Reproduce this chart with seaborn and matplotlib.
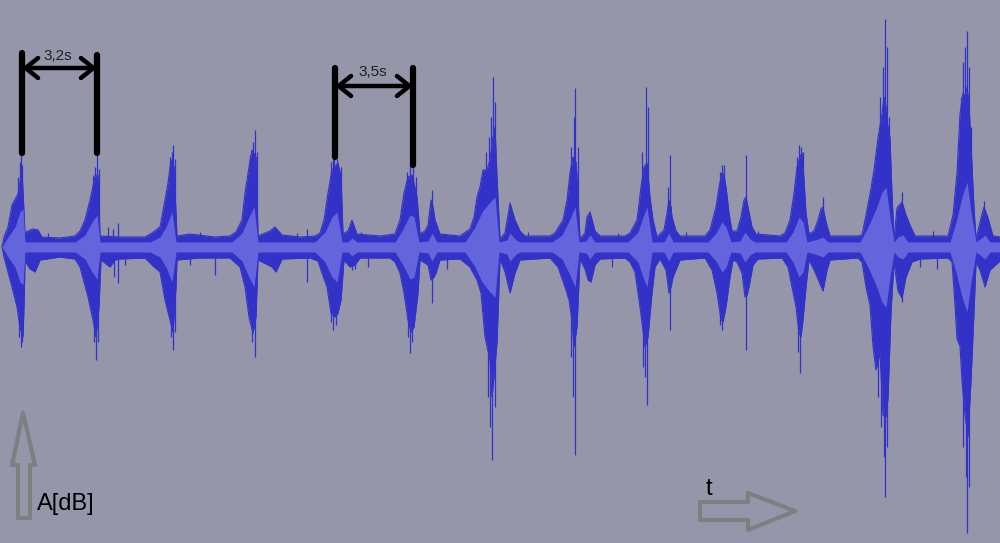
import matplotlib
matplotlib.use("Agg")
import matplotlib.pyplot as plt
import pandas as pd
import seaborn as sns
from matplotlib.patches import Polygon

# waveform: x in frames (1 frame = 1 px), amplitude in px from the centre line
CENTER_Y = 247

# upper peak envelope (frame, amplitude)
upper_env = [
    (2, 0), (4, 10), (8, 20), (12, 42), (18, 53), (22, 76), (25, 14), (28, 16), (33, 18), (38, 17),
    (42, 10), (60, 9), (75, 11), (80, 16), (85, 27), (90, 47), (95, 70), (98, 72), (100, 11),
    (120, 10), (145, 10), (152, 14), (160, 20), (165, 47), (168, 64), (171, 87), (174, 80), (177, 11),
    (190, 13), (215, 10), (230, 11), (236, 15), (242, 27), (245, 54), (249, 80), (252, 97), (256, 90),
    (258, 11), (270, 16), (275, 20), (282, 12), (300, 10), (315, 11), (320, 14), (324, 27), (328, 54),
    (332, 77), (338, 84), (341, 70), (343, 13), (348, 16), (352, 27), (357, 13), (380, 11), (395, 13),
    (400, 27), (404, 54), (408, 70), (412, 72), (414, 64), (417, 50), (420, 13), (425, 16), (428, 22),
    (431, 47), (433, 40), (435, 27), (440, 13), (460, 11), (470, 18), (474, 30), (477, 50), (480, 60),
    (483, 77), (487, 77), (490, 87), (493, 110), (495, 120), (497, 70), (500, 8), (505, 14), (510, 44),
    (515, 27), (520, 16), (525, 11), (550, 11), (555, 14), (563, 27), (567, 47), (570, 74), (573, 90),
    (576, 85), (577, 70), (580, 8), (585, 14), (587, 30), (590, 35), (595, 16), (600, 11), (625, 11),
    (630, 14), (637, 27), (641, 60), (644, 80), (647, 84), (650, 50), (653, 27), (657, 10), (664, 17),
    (667, 34), (669, 47), (671, 40), (672, 30), (676, 16), (680, 11), (705, 11), (710, 17), (716, 40),
    (719, 60), (722, 74), (724, 72), (726, 60), (729, 34), (732, 16), (737, 16), (741, 30), (744, 47),
    (746, 50), (748, 40), (752, 20), (756, 13), (780, 11), (785, 14), (790, 27), (794, 54), (797, 80),
    (800, 90), (802, 94), (804, 67), (806, 34), (809, 13), (814, 16), (818, 27), (821, 38), (823, 40),
    (826, 25), (830, 11), (858, 11), (862, 12), (866, 32), (870, 53), (874, 77), (878, 109), (882, 133),
    (884, 150), (886, 140), (887, 126), (890, 109), (892, 53), (894, 8), (897, 39), (902, 45), (906, 32),
    (910, 22), (915, 11), (948, 11), (953, 32), (957, 74), (960, 133), (963, 154), (965, 150), (967, 160),
    (969, 143), (972, 81), (974, 39), (976, 8), (980, 25), (984, 40), (988, 29), (993, 11), (1000, 10),
]

# lower peak envelope (frame, amplitude)
lower_env = [
    (2, 0), (4, -10), (8, -25), (12, -40), (17, -60), (20, -80), (23, -90), (24, -60), (25, -14),
    (30, -22), (35, -25), (40, -13), (60, -10), (75, -12), (80, -20), (88, -50), (93, -73), (96, -90),
    (99, -60), (101, -13), (110, -20), (115, -13), (120, -12), (145, -11), (152, -18), (160, -25),
    (165, -53), (170, -73), (173, -85), (176, -40), (177, -13), (200, -11), (230, -11), (240, -20),
    (245, -40), (249, -70), (253, -86), (256, -70), (258, -13), (272, -20), (276, -25), (282, -12),
    (310, -11), (318, -14), (322, -26), (327, -40), (331, -66), (335, -70), (338, -66), (341, -53),
    (344, -13), (350, -20), (355, -18), (360, -11), (390, -11), (395, -15), (400, -26), (404, -46),
    (408, -73), (411, -85), (414, -80), (418, -46), (420, -13), (428, -18), (431, -33), (434, -30),
    (436, -26), (440, -13), (460, -12), (470, -20), (477, -33), (481, -46), (485, -90), (490, -113),
    (492, -150), (494, -130), (497, -96), (500, -12), (505, -25), (510, -46), (515, -26), (520, -13),
    (550, -11), (558, -20), (565, -40), (569, -53), (572, -73), (574, -100), (577, -80), (580, -12),
    (585, -22), (588, -33), (591, -35), (595, -18), (600, -12), (625, -11), (630, -15), (635, -25),
    (640, -60), (645, -100), (648, -90), (652, -46), (655, -20), (660, -12), (666, -23), (669, -46),
    (671, -40), (673, -30), (680, -13), (705, -11), (712, -23), (717, -46), (721, -73), (723, -75),
    (726, -60), (730, -30), (733, -13), (737, -15), (742, -26), (745, -50), (747, -48), (749, -40),
    (753, -18), (758, -12), (782, -11), (788, -20), (792, -40), (796, -60), (799, -86), (801, -90),
    (803, -73), (806, -40), (809, -13), (815, -25), (820, -37), (823, -44), (827, -23), (830, -13),
    (858, -11), (862, -15), (866, -40), (870, -58), (873, -99), (876, -123), (880, -106), (883, -168),
    (886, -170), (888, -151), (891, -65), (894, -15), (898, -44), (902, -51), (906, -30), (912, -15),
    (920, -12), (948, -11), (952, -15), (955, -58), (957, -92), (960, -99), (962, -134), (965, -168),
    (968, -190), (969, -170), (971, -134), (974, -65), (976, -15), (980, -23), (985, -40), (990, -23),
    (1000, -14),
]

# rms core (frame, half width)
rms_core = [
    (2, 0), (5, 5), (8, 10), (15, 20), (20, 35), (23, 38), (25, 5), (75, 5), (85, 12), (92, 25), (97, 32),
    (100, 5), (150, 5), (160, 10), (166, 20), (172, 35), (176, 5), (232, 5), (242, 14), (248, 28),
    (254, 40), (258, 5), (315, 5), (325, 15), (332, 30), (337, 35), (342, 5), (348, 5), (352, 9),
    (357, 5), (395, 5), (403, 18), (410, 32), (414, 30), (419, 5), (428, 6), (432, 14), (437, 5),
    (465, 5), (475, 20), (482, 35), (490, 45), (495, 50), (499, 5), (507, 7), (510, 14), (516, 7),
    (520, 5), (552, 5), (562, 12), (570, 28), (575, 40), (579, 5), (586, 6), (590, 12), (595, 5),
    (628, 5), (638, 15), (643, 30), (647, 40), (652, 5), (664, 5), (669, 14), (673, 5), (708, 5),
    (716, 14), (722, 25), (726, 20), (731, 5), (740, 6), (745, 15), (750, 8), (755, 5), (786, 5),
    (793, 15), (799, 30), (803, 25), (807, 5), (818, 8), (823, 10), (828, 5), (860, 5), (868, 20),
    (876, 38), (882, 55), (886, 60), (890, 30), (894, 5), (898, 10), (903, 12), (908, 5), (950, 5),
    (956, 25), (962, 50), (967, 65), (971, 35), (976, 5), (980, 8), (985, 12), (990, 5), (1000, 5),
]

# thin peaks above the envelope (frame, amplitude)
spikes_up = [
    (18, 70), (20, 85), (21, 97), (22, 82), (93, 72), (95, 80), (97, 97), (99, 78), (170, 90), (172, 95),
    (173, 102), (175, 88), (250, 92), (253, 105), (255, 117), (257, 95), (331, 85), (333, 92), (334, 97),
    (337, 88), (341, 80), (407, 75), (410, 84), (413, 80), (416, 70), (432, 57), (486, 95), (489, 110),
    (491, 130), (493, 170), (495, 145), (571, 100), (574, 130), (575, 159), (578, 100), (642, 95),
    (646, 160), (648, 140), (668, 60), (670, 92), (720, 75), (722, 82), (724, 82), (746, 92),
    (797, 90), (799, 102), (801, 100), (803, 95), (823, 50), (880, 150), (883, 180), (885, 228),
    (887, 200), (889, 130), (902, 55), (961, 150), (963, 185), (965, 200), (967, 216), (969, 180),
    (971, 120), (984, 46),
    (48, 14), (108, 20), (113, 18), (118, 24), (200, 15), (297, 14), (307, 18), (361, 15),
    (528, 15), (618, 14), (686, 15), (758, 16), (933, 16),
]

# thin peaks below the envelope (frame, amplitude)
spikes_down = [
    (19, -90), (21, -100), (22, -95), (94, -95), (96, -113), (98, -95), (114, -30), (118, -36),
    (171, -90), (173, -103), (175, -85), (215, -28), (252, -95), (255, -110), (307, -35), (331, -75),
    (333, -83), (336, -78), (352, -23), (408, -90), (410, -106), (412, -95), (432, -56), (488, -150),
    (490, -180), (492, -213), (495, -160), (571, -110), (573, -150), (575, -208), (643, -120), (645, -130),
    (647, -158), (670, -83), (720, -78), (722, -83), (746, -103), (798, -105), (800, -126),
    (878, -150), (881, -180), (884, -210), (885, -250), (887, -200), (963, -200), (966, -230),
    (967, -286), (969, -240), (902, -55),
    (125, -18), (190, -18), (355, -22), (368, -20), (447, -22), (612, -20), (710, -20), (920, -20),
    (937, -22),
]

interval_labels = ["3,2s", "3,5s"]
axis_labels = ["A[dB]", "t"]

BG = "#9596a9"
WAVE = "#3232c8"
RMS = "#6464dc"
OUT = "out.png"


def main():
    sns.set_theme(style="white")
    plt.rcParams["font.family"] = ["Liberation Sans", "DejaVu Sans"]

    up = pd.DataFrame(upper_env, columns=["frame", "amp"])
    lo = pd.DataFrame(lower_env, columns=["frame", "amp"])
    core = pd.DataFrame(rms_core, columns=["frame", "amp"])
    sp_up = pd.DataFrame(spikes_up, columns=["frame", "amp"])
    sp_lo = pd.DataFrame(spikes_down, columns=["frame", "amp"])

    fig = plt.figure(figsize=(10, 5.43), dpi=100)
    fig.patch.set_facecolor(BG)
    ax = fig.add_axes([0, 0, 1, 1])
    ax.set_facecolor(BG)

    # peak envelope
    ax.fill_between(up["frame"], 0, up["amp"], color=WAVE, lw=0)
    ax.fill_between(lo["frame"], lo["amp"], 0, color=WAVE, lw=0)
    sns.lineplot(data=up, x="frame", y="amp", color=WAVE, lw=0.8, ax=ax)
    sns.lineplot(data=lo, x="frame", y="amp", color=WAVE, lw=0.8, ax=ax)
    ax.vlines(sp_up["frame"], 0, sp_up["amp"], color=WAVE, lw=0.9)
    ax.vlines(sp_lo["frame"], sp_lo["amp"], 0, color=WAVE, lw=0.9)

    # rms core sits on top of the peaks
    ax.fill_between(core["frame"], -core["amp"], core["amp"], color=RMS, lw=0, zorder=3)

    ax.set_xlim(0, 1000)
    ax.set_ylim(CENTER_Y - 543, CENTER_Y)
    ax.set_axis_off()

    # overlay in pixel coords for the hand-drawn annotations
    ov = fig.add_axes([0, 0, 1, 1])
    ov.set_xlim(0, 1000)
    ov.set_ylim(543, 0)
    ov.set_axis_off()
    ov.patch.set_alpha(0)

    brackets = [((22, 53, 153), (97, 55, 153), 68, interval_labels[0], (58, 56)),
                ((335, 68, 157), (413, 68, 165), 86, interval_labels[1], (373, 72))]
    for left, right, ya, label, pos in brackets:
        for x, y0, y1 in (left, right):
            ov.plot([x, x], [y0, y1], color="black", lw=4.5, solid_capstyle="round")
        ov.annotate("", xy=(right[0], ya), xytext=(left[0], ya),
                    arrowprops=dict(arrowstyle="<->,head_length=0.75,head_width=0.6",
                                    lw=3.2, color="black", shrinkA=0, shrinkB=0))
        ov.text(pos[0], pos[1], label, ha="center", va="center", fontsize=11, color="#202020")

    gray = "#7f7f7f"
    up_arrow = [(23, 413), (35, 465), (30, 465), (30, 518), (18, 518), (18, 465), (12, 465)]
    right_arrow = [(700, 502), (748, 502), (748, 493), (795, 511), (748, 530), (748, 520), (700, 520)]
    for pts in (up_arrow, right_arrow):
        ov.add_patch(Polygon(pts, closed=True, fill=False, edgecolor=gray, lw=3, joinstyle="round"))

    ov.text(37, 510, axis_labels[0], ha="left", va="baseline", fontsize=17, color="black")
    ov.text(709, 495, axis_labels[1], ha="center", va="baseline", fontsize=17, color="black")

    fig.savefig(OUT, dpi=100, facecolor=BG)
    plt.close(fig)


if __name__ == "__main__":
    main()
